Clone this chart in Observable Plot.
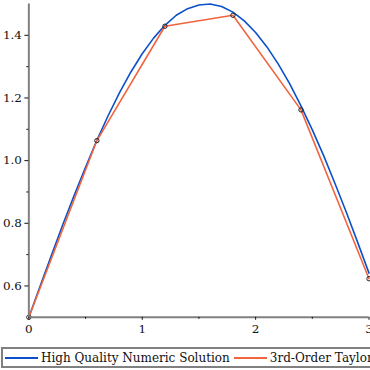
<!DOCTYPE html>
<html>
<head>
<meta charset="utf-8">
<script src="https://cdn.jsdelivr.net/npm/d3@7"></script>
<script src="https://cdn.jsdelivr.net/npm/@observablehq/plot@0.6"></script>
<style>
  html, body { margin: 0; padding: 0; background: #fff; overflow: hidden; width: 370px; height: 370px; }
  #chart { position: absolute; left: 0; top: 0; }
  #chart svg text { font-family: 'DejaVu Serif', 'Liberation Serif', serif; }
  #legend { position: absolute; left: 1px; top: 347px; height: 17px; width: 460px;
    border: 2px solid #808080; font-family: 'DejaVu Serif', 'Liberation Serif', serif; font-size: 12px;
    white-space: nowrap; display: flex; align-items: center; color: #111; }
  #legend span { flex-shrink: 0; }
  .sw { display: inline-block; width: 33px; height: 0; border-top: 2px solid; margin: 0 3px 0 4px; }
  .sw.first { margin-left: 2px; }
</style>
</head>
<body>
<div id="chart"></div>
<div id="legend"></div>
<script>
// Series names
const seriesNames = ["High Quality Numeric Solution", "3rd-Order Taylor Approximation"];
const seriesColors = ["#0b50c8", "#f2643e"];

// High-quality numeric solution
const numX = [0,0.1,0.2,0.3,0.4,0.5,0.6,0.7,0.8,0.9,1.0,1.1,1.2,1.3,1.4,1.5,1.6,1.7,1.8,1.9,2.0,2.1,2.2,2.3,2.4,2.5,2.6,2.7,2.8,2.9,3.0];
const numY = [0.500,0.600,0.699,0.796,0.889,0.979,1.065,1.144,1.217,1.283,1.341,1.391,1.432,1.464,1.485,1.497,1.500,1.492,1.474,1.446,1.409,1.363,1.308,1.246,1.175,1.098,1.016,0.927,0.835,0.739,0.641];

// 3rd-order Taylor approximation points
const taylorX = [0, 0.6, 1.2, 1.8, 2.4, 3.0];
const taylorY = [0.500, 1.064, 1.429, 1.464, 1.162, 0.623];

// Ticks
const xTicks = [0, 1, 2, 3];
const xMinor = [0.5, 1.5, 2.5];
const yTicks = [0.6, 0.8, 1.0, 1.2, 1.4];
const yMinor = [0.7, 0.9, 1.1, 1.3];

const numData = numX.map((x, i) => ({x, y: numY[i]}));
const tayData = taylorX.map((x, i) => ({x, y: taylorY[i]}));

const axisColor = "#808080";

const plot = Plot.plot({
  width: 372,
  height: 340,
  marginLeft: 28.5,
  marginRight: 1.5,
  marginTop: 3.5,
  marginBottom: 21.5,
  style: { fontFamily: "'DejaVu Serif', 'Liberation Serif', serif", fontSize: "12px", color: "#111", background: "transparent", overflow: "visible" },
  x: { domain: [0, 3] },
  y: { domain: [0.5, 1.5] },
  marks: [
    Plot.line(numData, { x: "x", y: "y", stroke: seriesColors[0], strokeWidth: 1.6 }),
    Plot.line(tayData, { x: "x", y: "y", stroke: seriesColors[1], strokeWidth: 1.6 }),
    Plot.dot(tayData, { x: "x", y: "y", r: 2.2, stroke: "#222", strokeWidth: 1, fill: "none" }),
    Plot.ruleX([0], { stroke: axisColor, strokeWidth: 2 }),
    Plot.ruleY([0.5], { stroke: axisColor, strokeWidth: 2 }),
    Plot.axisY(yTicks, { tickSize: 4, tickPadding: 3, stroke: "#111", color: "#111", fontSize: 12, tickFormat: d => d.toFixed(1), label: null }),
    Plot.axisY(yMinor, { tickSize: 2, tickFormat: () => "", stroke: "#111", label: null }),
    Plot.axisX(xTicks, { tickSize: 3, tickPadding: 4, stroke: "#111", color: "#111", fontSize: 12, tickFormat: d => String(d), label: null }),
    Plot.axisX(xMinor, { tickSize: 2, tickFormat: () => "", stroke: "#111", label: null })
  ]
});
document.getElementById("chart").appendChild(plot);

const legend = document.getElementById("legend");
seriesNames.forEach((name, i) => {
  const sw = document.createElement("span");
  sw.className = i === 0 ? "sw first" : "sw";
  sw.style.borderColor = seriesColors[i];
  legend.appendChild(sw);
  const t = document.createElement("span");
  t.textContent = name;
  legend.appendChild(t);
});
</script>
</body>
</html>
